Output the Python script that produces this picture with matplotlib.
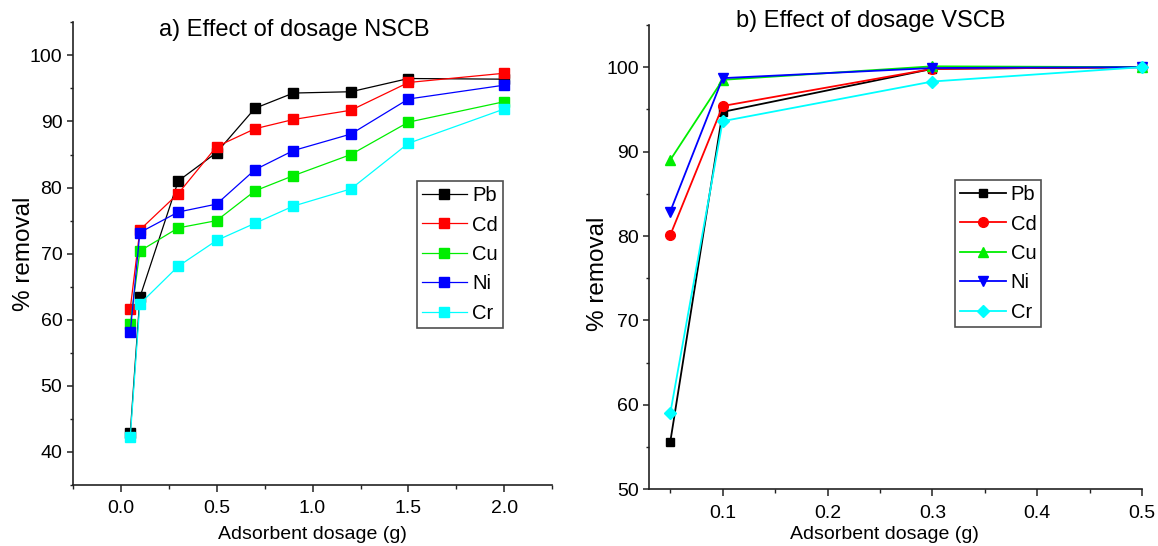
"""Effect of adsorbent dosage on metal removal, NSCB vs VSCB."""
import matplotlib
matplotlib.use("Agg")
import matplotlib.pyplot as plt
from matplotlib.ticker import MultipleLocator

plt.rcParams["font.family"] = ["Liberation Sans", "DejaVu Sans"]

metals = ["Pb", "Cd", "Cu", "Ni", "Cr"]
colors = ["#000000", "#ff0000", "#00ee00", "#0000ff", "#00ffff"]

# a) NSCB
dose_nscb = [0.05, 0.1, 0.3, 0.5, 0.7, 0.9, 1.2, 1.5, 2.0]
pb_nscb = [42.9, 63.4, 81.0, 85.3, 92.0, 94.3, 94.5, 96.5, 96.4]
cd_nscb = [61.7, 73.6, 79.1, 86.2, 88.9, 90.3, 91.7, 95.9, 97.3]
cu_nscb = [59.4, 70.4, 73.9, 75.0, 79.5, 81.8, 85.0, 89.9, 93.0]
ni_nscb = [58.1, 73.2, 76.3, 77.5, 82.7, 85.6, 88.1, 93.4, 95.5]
cr_nscb = [42.3, 62.4, 68.1, 72.0, 74.6, 77.2, 79.8, 86.7, 91.9]

# b) VSCB
dose_vscb = [0.05, 0.1, 0.3, 0.5]
pb_vscb = [55.6, 94.7, 99.8, 100.0]
cd_vscb = [80.1, 95.4, 99.8, 100.0]
cu_vscb = [89.0, 98.5, 100.1, 100.0]
ni_vscb = [82.9, 98.7, 99.9, 100.0]
cr_vscb = [59.0, 93.6, 98.3, 100.0]

markers_vscb = ["s", "o", "^", "v", "D"]
msize_vscb = [5.5, 7, 7.5, 7.5, 6.5]

fig = plt.figure(figsize=(11.58, 5.46), dpi=100)
ax1 = fig.add_axes([0.0628, 0.1117, 0.4142, 0.8474])
ax2 = fig.add_axes([0.5607, 0.1039, 0.4255, 0.8504])


def style_axes(ax):
    for side in ("top", "right"):
        ax.spines[side].set_visible(False)
    for side in ("left", "bottom"):
        ax.spines[side].set_linewidth(1.2)
        ax.spines[side].set_color("#222222")
    ax.tick_params(axis="x", which="major", length=5, width=1.1, pad=6,
                   labelsize=14, color="#222222")
    ax.tick_params(axis="x", which="minor", length=3, width=1.0, color="#222222")
    ax.tick_params(axis="y", which="major", length=4, width=1.1, pad=3.5,
                   labelsize=14, color="#222222")
    ax.tick_params(axis="y", which="minor", length=2, width=1.0, color="#222222")


def make_legend(ax, anchor):
    leg = ax.legend(loc="upper left", bbox_to_anchor=anchor, borderaxespad=0,
                    fontsize=14.5, frameon=True, fancybox=False,
                    edgecolor="#222222", handlelength=2.25, handletextpad=0.25,
                    labelspacing=0.52, borderpad=0.25)
    leg.get_frame().set_linewidth(1.2)
    return leg


# left panel
series_nscb = [pb_nscb, cd_nscb, cu_nscb, ni_nscb, cr_nscb]
for name, vals, col in zip(metals, series_nscb, colors):
    ax1.plot(dose_nscb, vals, color=col, lw=0.9, marker="s", ms=6.8,
             mec=col, mfc=col, label=name)
ax1.set_xlim(-0.25, 2.25)
ax1.set_ylim(35, 105)
ax1.set_xticks([0.0, 0.5, 1.0, 1.5, 2.0])
ax1.set_xticklabels(["0.0", "0.5", "1.0", "1.5", "2.0"])
ax1.xaxis.set_minor_locator(MultipleLocator(0.25))
ax1.set_yticks([40, 50, 60, 70, 80, 90, 100])
ax1.yaxis.set_minor_locator(MultipleLocator(5))
style_axes(ax1)
ax1.set_xlabel("Adsorbent dosage (g)", fontsize=14)
ax1.xaxis.set_label_coords(0.5, -0.089)
ax1.set_ylabel("% removal", fontsize=17.5)
ax1.yaxis.set_label_coords(-0.0786, 0.5)
make_legend(ax1, (0.717, 0.657))

# right panel
series_vscb = [pb_vscb, cd_vscb, cu_vscb, ni_vscb, cr_vscb]
for name, vals, col, mk, ms in zip(metals, series_vscb, colors, markers_vscb, msize_vscb):
    ax2.plot(dose_vscb, vals, color=col, lw=1.3, marker=mk, ms=ms,
             mec=col, mfc=col, label=name, clip_on=False)
ax2.set_xlim(0.03, 0.5)
ax2.set_ylim(50, 105)
ax2.set_xticks([0.1, 0.2, 0.3, 0.4, 0.5])
ax2.xaxis.set_minor_locator(MultipleLocator(0.05))
ax2.set_yticks([50, 60, 70, 80, 90, 100])
ax2.yaxis.set_minor_locator(MultipleLocator(5))
style_axes(ax2)
ax2.set_xlabel("Adsorbent dosage (g)", fontsize=14)
ax2.xaxis.set_label_coords(0.478, -0.08)
ax2.set_ylabel("% removal", fontsize=17.5)
ax2.yaxis.set_label_coords(-0.0818, 0.465)
make_legend(ax2, (0.621, 0.666))

fig.text(0.2539, 0.9458, "a) Effect of dosage NSCB", fontsize=17, ha="center", va="center")
fig.text(0.7522, 0.9615, "b) Effect of dosage VSCB", fontsize=17, ha="center", va="center")

fig.savefig("out.png", dpi=100)
